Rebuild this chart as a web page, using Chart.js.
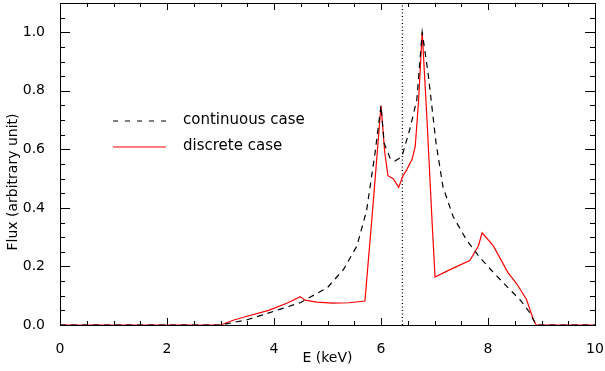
<!DOCTYPE html>
<html>
<head>
<meta charset="utf-8">
<script src="https://cdn.jsdelivr.net/npm/chart.js@4"></script>
<style>
  html, body { margin: 0; padding: 0; background: #fff; }
</style>
</head>
<body>
<canvas id="c" width="605" height="371"></canvas>
<script>
// energy grid (keV) and flux
const contE = [0, 3.0, 3.5, 4.0, 4.5, 5.0, 5.3, 5.55, 5.73, 5.89, 6.0, 6.06, 6.17, 6.26, 6.39, 6.54, 6.67, 6.77, 6.88, 7.03, 7.16, 7.35, 7.6, 7.85, 8.1, 8.36, 8.6, 8.79, 8.9, 10];
const contFlux = [0, 0, 0.018, 0.047, 0.077, 0.128, 0.19, 0.27, 0.39, 0.59, 0.75, 0.62, 0.57, 0.56, 0.575, 0.67, 0.77, 1.0, 0.86, 0.62, 0.47, 0.37, 0.29, 0.23, 0.18, 0.13, 0.086, 0.04, 0, 0];

const discE = [0, 3.0, 3.25, 3.5, 3.9, 4.25, 4.49, 4.58, 4.8, 5.1, 5.4, 5.7, 5.86, 6.0, 6.07, 6.13, 6.23, 6.33, 6.41, 6.48, 6.58, 6.64, 6.7, 6.77, 6.86, 6.95, 7.01, 7.3, 7.66, 7.82, 7.89, 8.1, 8.37, 8.54, 8.72, 8.85, 8.9, 10];
const discFlux = [0, 0, 0.017, 0.03, 0.05, 0.075, 0.097, 0.085, 0.078, 0.075, 0.076, 0.082, 0.43, 0.75, 0.59, 0.51, 0.50, 0.47, 0.51, 0.53, 0.565, 0.61, 0.76, 1.0, 0.70, 0.37, 0.164, 0.19, 0.22, 0.27, 0.315, 0.27, 0.18, 0.14, 0.087, 0.017, 0, 0];

const lineE = 6.4; // Fe K-alpha marker
const xMin = 0, xMax = 10, yMin = 0, yMax = 1.1;
const legendLabels = ["continuous case", "discrete case"];
const xTitle = "E (keV)";
const yTitle = "Flux (arbitrary unit)";

const pts = (xs, ys) => xs.map((x, i) => ({ x: x, y: ys[i] }));
const FONT = "'DejaVu Sans', sans-serif";

// box with inward ticks, legend, axis titles
const frame = {
  id: "frame",
  afterDraw(chart) {
    const ctx = chart.ctx;
    const a = chart.chartArea;
    const xs = chart.scales.x, ys = chart.scales.y;

    ctx.save();
    ctx.strokeStyle = "#000";
    ctx.lineWidth = 1.2;
    ctx.setLineDash([5, 7]);
    ctx.beginPath(); ctx.moveTo(113, 121); ctx.lineTo(166, 121); ctx.stroke();
    ctx.setLineDash([]);
    ctx.strokeStyle = "#ff0000";
    ctx.beginPath(); ctx.moveTo(113, 147); ctx.lineTo(166, 147); ctx.stroke();
    ctx.fillStyle = "#000";
    ctx.font = "15px " + FONT;
    ctx.textAlign = "left";
    ctx.textBaseline = "middle";
    ctx.fillText(legendLabels[0], 183, 120);
    ctx.fillText(legendLabels[1], 183, 146);
    ctx.font = "14px " + FONT;
    ctx.textAlign = "center";
    ctx.fillText(xTitle, (a.left + a.right) / 2, 358);
    ctx.translate(13, 182);
    ctx.rotate(-Math.PI / 2);
    ctx.fillText(yTitle, 0, 0);
    ctx.restore();

    ctx.save();
    ctx.strokeStyle = "#000";
    ctx.lineWidth = 1;
    ctx.strokeRect(a.left + 0.5, a.top + 0.5, a.right - a.left, a.bottom - a.top);
    ctx.beginPath();
    for (let i = 0; i <= 20; i++) {
      const p = Math.round(xs.getPixelForValue(xMin + i * 0.5)) + 0.5;
      const len = i % 4 === 0 ? 7 : 4;
      ctx.moveTo(p, a.bottom); ctx.lineTo(p, a.bottom - len);
      ctx.moveTo(p, a.top); ctx.lineTo(p, a.top + len);
    }
    for (let i = 0; i <= 22; i++) {
      const p = Math.round(ys.getPixelForValue(i * 0.05)) + 0.5;
      const len = i % 4 === 0 ? 10 : 5;
      ctx.moveTo(a.left, p); ctx.lineTo(a.left + len, p);
      ctx.moveTo(a.right, p); ctx.lineTo(a.right - len, p);
    }
    ctx.stroke();
    ctx.restore();
  }
};

new Chart(document.getElementById("c"), {
  type: "line",
  data: {
    datasets: [
      {
        label: "continuous case",
        data: pts(contE, contFlux),
        borderColor: "#000",
        borderWidth: 1.2,
        borderDash: [6, 5],
        pointRadius: 0,
        clip: 3
      },
      {
        label: "discrete case",
        data: pts(discE, discFlux),
        borderColor: "#ff0000",
        borderWidth: 1.2,
        pointRadius: 0,
        clip: 3
      },
      {
        label: "6.4 keV",
        data: pts([lineE, lineE], [yMin, yMax]),
        borderColor: "#000",
        borderWidth: 1.3,
        borderDash: [1, 2.5],
        pointRadius: 0,
        clip: 3
      }
    ]
  },
  options: {
    responsive: false,
    animation: false,
    layout: { padding: { top: 3, right: 10, left: 0, bottom: 0 } },
    plugins: { legend: { display: false } },
    scales: {
      x: {
        type: "linear",
        min: xMin, max: xMax,
        grid: { display: false },
        border: { display: false },
        ticks: { stepSize: 2, padding: 8, color: "#000", font: { family: FONT, size: 14 }, maxRotation: 0 },
        afterFit(s) { s.height = 46; s.paddingLeft = 0; s.paddingRight = 0; }
      },
      y: {
        type: "linear",
        min: yMin, max: yMax,
        grid: { display: false },
        border: { display: false },
        ticks: {
          stepSize: 0.2, padding: 7, color: "#000", font: { family: FONT, size: 14 },
          callback: (v) => (v > 1.05 ? "" : v.toFixed(1))
        },
        afterFit(s) { s.width = 60; s.paddingTop = 0; s.paddingBottom = 0; }
      }
    }
  },
  plugins: [frame]
});
</script>
</body>
</html>
